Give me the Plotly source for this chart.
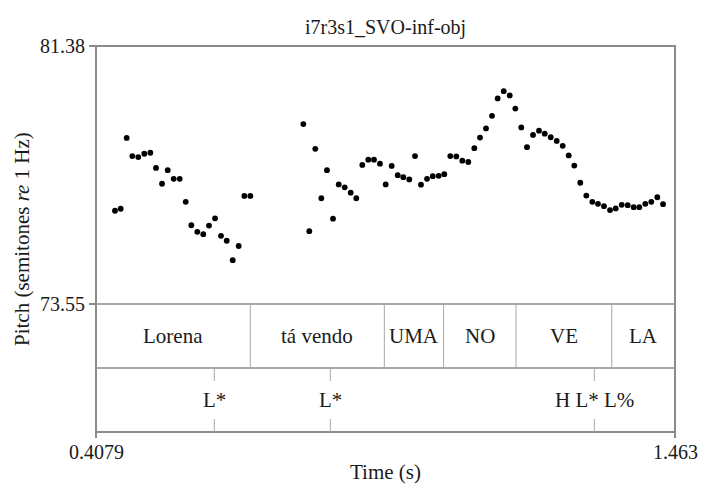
import plotly.graph_objects as go

# ---- data ----
time_s = [0.4425, 0.4529, 0.4638, 0.4741, 0.4850, 0.4959, 0.5069, 0.5172, 0.5282, 0.5386,
          0.5495, 0.5604, 0.5714, 0.5816, 0.5925, 0.6034, 0.6138, 0.6248, 0.6357, 0.6461,
          0.6570, 0.6679, 0.6782, 0.6891,
          0.7857, 0.7966, 0.8075, 0.8185, 0.8288, 0.8398, 0.8502, 0.8611, 0.8720, 0.8822,
          0.8932, 0.9041, 0.9145, 0.9254, 0.9358, 0.9467, 0.9577, 0.9679, 0.9788, 0.9892,
          1.0001, 1.0111, 1.0215, 1.0324, 1.0426, 1.0535, 1.0645, 1.0754, 1.0863, 1.0973,
          1.1077, 1.1186, 1.1295, 1.1399, 1.1509, 1.1618, 1.1720, 1.1829, 1.1933, 1.2043,
          1.2152, 1.2256, 1.2365, 1.2474, 1.2584, 1.2693, 1.2795, 1.2904, 1.3014, 1.3123,
          1.3227, 1.3336, 1.3446, 1.3550, 1.3659, 1.3768, 1.3878, 1.3980, 1.4089, 1.4198,
          1.4308, 1.4412]
pitch_st = [76.38, 76.44, 78.59, 78.04, 78.01, 78.11, 78.14, 77.68, 77.20, 77.61,
            77.35, 77.35, 76.65, 75.94, 75.74, 75.67, 75.93, 76.15, 75.62, 75.47,
            74.88, 75.31, 76.83, 76.83,
            79.01, 75.76, 78.26, 76.76, 77.61, 76.14, 77.18, 77.09, 76.93, 76.76,
            77.77, 77.93, 77.93, 77.81, 77.18, 77.74, 77.46, 77.40, 77.33, 78.04,
            77.17, 77.35, 77.43, 77.44, 77.49, 78.04, 78.03, 77.90, 77.86, 78.28,
            78.60, 78.88, 79.26, 79.79, 80.01, 79.88, 79.48, 78.91, 78.31, 78.68,
            78.81, 78.72, 78.61, 78.50, 78.35, 78.06, 77.75, 77.23, 76.84, 76.65,
            76.59, 76.52, 76.40, 76.45, 76.56, 76.55, 76.49, 76.49, 76.59, 76.65,
            76.79, 76.58]

t_min, t_max = 0.4079, 1.463
p_min, p_max = 73.55, 81.38
x_tick_text = ["0.4079", "1.463"]
y_tick_text = ["73.55", "81.38"]

word_labels = ["Lorena", "tá vendo", "UMA", "NO", "VE", "LA"]
word_bounds = [0.4079, 0.6891, 0.9333, 1.0413, 1.1733, 1.3477, 1.463]

tone_labels = ["L*", "L*", "H L* L%"]
tone_times = [0.6235, 0.8349, 1.3160]

title = "i7r3s1_SVO-inf-obj"

# ---- layout geometry (paper fractions) ----
W, H = 701, 484
ml, mr, mt, mb = 96, 26, 46, 52
ph = H - mt - mb
pw = W - ml - mr
pitch_bottom = (432 - 304) / ph
tier_split = (432 - 368) / ph

FONT = "Liberation Serif"
TXT = "#1a1a1a"
FRAME = "#8c8c8c"
INNER = "#a6a6a6"

fig = go.Figure()
fig.add_trace(go.Scatter(
    x=time_s, y=pitch_st, mode="markers",
    marker=dict(color="black", size=5.8, line=dict(width=0)),
    hoverinfo="x+y", showlegend=False))

shapes = []
shapes.append(dict(type="rect", xref="paper", yref="paper", x0=0, x1=1, y0=0, y1=1,
                   line=dict(color=FRAME, width=2)))
shapes.append(dict(type="line", xref="paper", yref="paper", x0=0, x1=1,
                   y0=pitch_bottom, y1=pitch_bottom, line=dict(color=FRAME, width=1.5)))
shapes.append(dict(type="line", xref="paper", yref="paper", x0=0, x1=1,
                   y0=tier_split, y1=tier_split, line=dict(color=FRAME, width=1.5)))

annotations = []
for i, lab in enumerate(word_labels):
    a, b = word_bounds[i], word_bounds[i + 1]
    if i > 0:
        shapes.append(dict(type="line", xref="x", yref="paper", x0=a, x1=a,
                           y0=tier_split, y1=pitch_bottom, line=dict(color=INNER, width=1)))
    annotations.append(dict(x=(a + b) / 2, y=(tier_split + pitch_bottom) / 2,
                            xref="x", yref="paper", text=lab, showarrow=False,
                            font=dict(family=FONT, size=21, color=TXT),
                            xanchor="center", yanchor="middle"))
tick_frac = 13 / ph
for t, lab in zip(tone_times, tone_labels):
    shapes.append(dict(type="line", xref="x", yref="paper", x0=t, x1=t,
                       y0=tier_split - tick_frac, y1=tier_split, line=dict(color=INNER, width=1)))
    shapes.append(dict(type="line", xref="x", yref="paper", x0=t, x1=t,
                       y0=0, y1=tick_frac, line=dict(color=INNER, width=1)))
    annotations.append(dict(x=t, y=tier_split / 2, xref="x", yref="paper", text=lab,
                            showarrow=False, font=dict(family=FONT, size=21, color=TXT),
                            xanchor="center", yanchor="middle"))

# x tick labels
for v, txt in zip([t_min, t_max], x_tick_text):
    annotations.append(dict(x=v, y=-20 / ph, xref="x", yref="paper", text=txt,
                            showarrow=False, font=dict(family=FONT, size=20, color=TXT),
                            xanchor="center", yanchor="middle"))

annotations.append(dict(x=-74 / pw, y=0.5, xref="paper", yref="paper",
                        text="Pitch (semitones <i>re</i> 1 Hz)", textangle=-90,
                        showarrow=False, font=dict(family=FONT, size=21, color=TXT),
                        xanchor="center", yanchor="middle"))
annotations.append(dict(x=0.5, y=-40 / ph, xref="paper", yref="paper",
                        text="Time (s)", showarrow=False,
                        font=dict(family=FONT, size=21, color=TXT),
                        xanchor="center", yanchor="middle"))
annotations.append(dict(x=0.5, y=1 + 19 / ph, xref="paper", yref="paper",
                        text=title, showarrow=False,
                        font=dict(family=FONT, size=20, color=TXT),
                        xanchor="center", yanchor="middle"))

fig.update_layout(
    width=W, height=H,
    margin=dict(l=ml, r=mr, t=mt, b=mb, pad=0, autoexpand=False),
    paper_bgcolor="white", plot_bgcolor="white",
    shapes=shapes, annotations=annotations,
    font=dict(family=FONT, size=20, color=TXT),
    xaxis=dict(range=[t_min, t_max], anchor="free", position=0, automargin=False,
               showgrid=False, zeroline=False, showline=False,
               tickmode="array", tickvals=[t_min, t_max], showticklabels=False,
               ticks="outside", ticklen=5, tickcolor=FRAME, tickwidth=1.5),
    yaxis=dict(range=[p_min, p_max], domain=[pitch_bottom, 1], automargin=False,
               showgrid=False, zeroline=False, showline=False,
               tickmode="array", tickvals=[p_min, p_max], ticktext=y_tick_text,
               ticks="outside", ticklen=6, tickcolor=FRAME, tickwidth=1.5,
               tickfont=dict(family=FONT, size=20, color=TXT)),
)

fig.write_html("out.html")
